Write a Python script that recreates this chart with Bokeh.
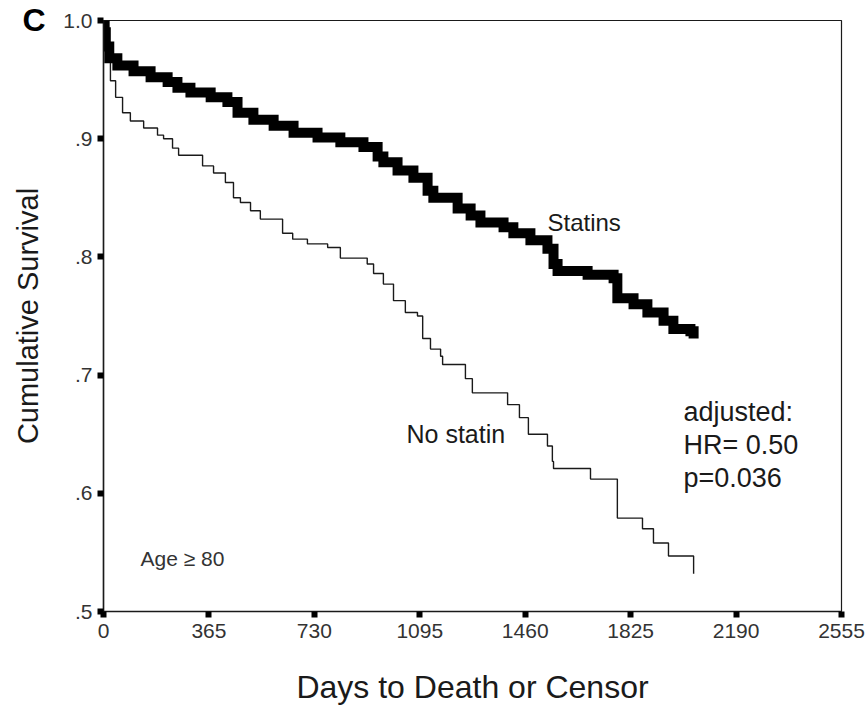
from bokeh.plotting import figure
from bokeh.models import Range1d, FixedTicker, Label, Title
from bokeh.embed import file_html
from bokeh.resources import INLINE

# ---- data ----
statins_days = [0, 4, 8, 20, 48, 104, 163, 222, 256, 301, 371, 429, 464, 519, 589,
                658, 741, 820, 900, 949, 969, 1018, 1073, 1122, 1142, 1226, 1271, 1305,
                1385, 1419, 1478, 1537, 1558, 1572, 1676, 1766, 1779, 1835, 1883, 1939,
                1973, 2032, 2043]
statins_surv = [1.0, 0.99, 0.978, 0.968, 0.962, 0.957, 0.952, 0.948, 0.943, 0.939, 0.935,
                0.931, 0.922, 0.916, 0.911, 0.905, 0.901, 0.897, 0.893, 0.885, 0.880, 0.873,
                0.867, 0.856, 0.850, 0.841, 0.835, 0.829, 0.825, 0.820, 0.814, 0.807, 0.794,
                0.788, 0.785, 0.782, 0.765, 0.760, 0.753, 0.746, 0.739, 0.737, 0.731]

nostatin_days = [0, 14, 24, 42, 66, 93, 139, 187, 208, 239, 260, 343, 381, 422, 450, 474,
                 509, 543, 620, 655, 706, 776, 820, 913, 935, 969, 1004, 1045, 1087, 1105,
                 1132, 1167, 1174, 1253, 1277, 1399, 1440, 1471, 1537, 1554, 1558, 1686,
                 1779, 1866, 1904, 1956, 2043]
nostatin_surv = [1.0, 0.972, 0.949, 0.935, 0.922, 0.915, 0.909, 0.903, 0.900, 0.892, 0.886,
                 0.877, 0.871, 0.863, 0.850, 0.846, 0.839, 0.832, 0.820, 0.815, 0.811, 0.808,
                 0.799, 0.794, 0.786, 0.777, 0.763, 0.753, 0.750, 0.731, 0.722, 0.716, 0.709,
                 0.697, 0.685, 0.675, 0.664, 0.650, 0.640, 0.627, 0.621, 0.612, 0.579, 0.570,
                 0.558, 0.547, 0.532]

x_ticks = [0, 365, 730, 1095, 1460, 1825, 2190, 2555]
x_tick_labels = ["0", "365", "730", "1095", "1460", "1825", "2190", "2555"]
y_ticks = [0.5, 0.6, 0.7, 0.8, 0.9, 1.0]
y_tick_labels = [".5", ".6", ".7", ".8", ".9", "1.0"]

FONT = "Liberation Sans"
INK = "#1a1a1a"

p = figure(width=868, height=712, output_backend="svg", toolbar_location=None,
           x_range=Range1d(0, 2555), y_range=Range1d(0.5, 1.0),
           min_border_left=103, min_border_right=27, min_border_top=20,
           min_border_bottom=101, background_fill_color="white",
           border_fill_color="white")
p.grid.visible = False
p.outline_line_color = INK
p.outline_line_width = 1.2

# panel letter as a title, pulled down into the top border
p.title = Title(text="C", align="left", offset=-81, standoff=-34,
                text_font=FONT, text_font_size="32px", text_font_style="bold",
                text_color="black")

p.xaxis.ticker = FixedTicker(ticks=x_ticks)
p.yaxis.ticker = FixedTicker(ticks=y_ticks)
p.xaxis.major_label_overrides = {t: s for t, s in zip(x_ticks, x_tick_labels)}
p.yaxis.major_label_overrides = {t: s for t, s in zip(y_ticks, y_tick_labels)}

for ax in (p.xaxis, p.yaxis):
    ax.axis_line_color = INK
    ax.axis_line_width = 1.5
    ax.major_tick_line_color = "black"
    ax.major_tick_line_width = 6
    ax.major_tick_in = 0
    ax.major_tick_out = 6
    ax.minor_tick_line_color = None
    ax.major_label_text_font = FONT
    ax.major_label_text_font_size = "21px"
    ax.major_label_text_color = "#333333"
    ax.axis_label_text_font = FONT
    ax.axis_label_text_font_style = "normal"
    ax.axis_label_text_color = INK

p.xaxis.major_label_standoff = 6
p.yaxis.major_label_standoff = 5
p.xaxis.axis_label = "Days to Death or Censor"
p.yaxis.axis_label = "Cumulative Survival"
p.xaxis.axis_label_text_font_size = "32px"
p.yaxis.axis_label_text_font_size = "29px"
p.xaxis.axis_label_standoff = 28
p.yaxis.axis_label_standoff = 16

p.step(nostatin_days, nostatin_surv, mode="after", line_color=INK, line_width=1.4)
p.step(statins_days, statins_surv, mode="after", line_color="black", line_width=10,
       line_join="miter")

def add_label(x, y, text, size, style="normal", color=INK):
    p.add_layout(Label(x=x, y=y, text=text, text_font=FONT, text_font_size=size,
                       text_font_style=style, text_color=color,
                       text_baseline="middle", text_align="left"))

add_label(1537, 0.829, "Statins", "24px")
add_label(1049, 0.650, "No statin", "25px")
add_label(2008, 0.669, "adjusted:", "27px")
add_label(2008, 0.641, "HR= 0.50", "27px")
add_label(2008, 0.613, "p=0.036", "27px")
add_label(128, 0.545, "Age \u2265 80", "21px", color="#333333")

open("out.html", "w").write(file_html(p, INLINE))
